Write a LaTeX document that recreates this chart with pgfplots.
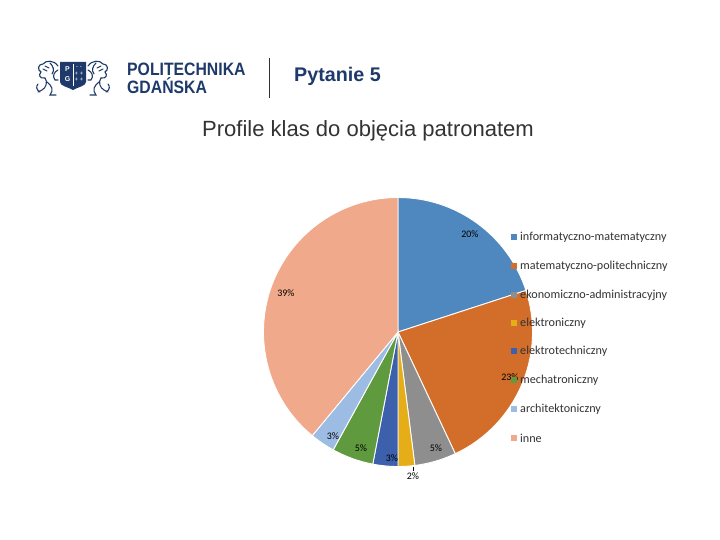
\documentclass[border=0pt]{standalone}
\usepackage{pgfplots}
\pgfplotsset{compat=1.18}
\usepackage{pgfplotstable}
\usepackage{fontspec}
\setmainfont{Liberation Sans}
\newfontfamily\calfont{Carlito}

\definecolor{cInf}{HTML}{4F88BE}
\definecolor{cMat}{HTML}{D36D2A}
\definecolor{cEko}{HTML}{8E8E8E}
\definecolor{cElk}{HTML}{E5AD18}
\definecolor{cEtc}{HTML}{3C60AC}
\definecolor{cMec}{HTML}{5F9A3E}
\definecolor{cArc}{HTML}{9DBCE3}
\definecolor{cInn}{HTML}{F0A98A}
\definecolor{navy}{HTML}{1D3A6B}
\definecolor{txt}{HTML}{333333}

% value in %, colour, label position (pixel x, pixel y), legend row (pixel y)
\pgfplotstableread[col sep=comma]{
name,value,col,lx,ly,gy
informatyczno-matematyczny,20,cInf,470,234,237
matematyczno-politechniczny,23,cMat,510,377,266
ekonomiczno-administracyjny,5,cEko,436,448,295
elektroniczny,2,cElk,413,476,323
elektrotechniczny,3,cEtc,392,458,351
mechatroniczny,5,cMec,361,448,380
architektoniczny,3,cArc,333,436,409
inne,39,cInn,286,293,438
}\piedata

\newcommand\lblfont{\calfont\fontsize{10}{12}\selectfont}
\newcommand\legfont{\calfont\fontsize{12.2}{14}\selectfont}

\begin{document}
\begin{tikzpicture}
\useasboundingbox (0,0) rectangle (720bp,540bp);
\fill[white] (0,0) rectangle (720bp,540bp);

\begin{axis}[
    at={(0,0)}, anchor=origin,
    x=1bp, y=1bp,
    xmin=0, xmax=720, ymin=0, ymax=540,
    hide axis, clip=false
]
\pgfmathsetmacro\cum{0}
\pgfplotsforeachungrouped \i in {0,...,7}{%
  \pgfplotstablegetelem{\i}{value}\of\piedata \let\v\pgfplotsretval
  \pgfplotstablegetelem{\i}{col}\of\piedata \let\c\pgfplotsretval
  \pgfplotstablegetelem{\i}{name}\of\piedata \let\n\pgfplotsretval
  \pgfplotstablegetelem{\i}{lx}\of\piedata \let\lx\pgfplotsretval
  \pgfplotstablegetelem{\i}{ly}\of\piedata \pgfmathsetmacro\ly{540-\pgfplotsretval}
  \pgfplotstablegetelem{\i}{gy}\of\piedata \pgfmathsetmacro\gy{540-\pgfplotsretval}
  \pgfmathsetmacro\a{90-3.6*\cum}
  \pgfmathsetmacro\b{90-3.6*(\cum+\v)}
  \edef\tmp{%
    \noexpand\fill[\c, draw=white, line width=0.9bp] (axis cs:398,208) -- ++(\a:134.5bp)
      arc[start angle=\a, end angle=\b, radius=134.5bp] -- cycle;
    \noexpand\node[font=\noexpand\lblfont, text=black, inner sep=0pt] at (axis cs:\lx,\ly) {\v\noexpand\%};
    \noexpand\fill[\c] (axis cs:510.5,\gy) ++(0,-3bp) rectangle ++(6bp,6bp);
    \noexpand\node[font=\noexpand\legfont, text=txt, anchor=west, inner sep=0pt] at (axis cs:520,\gy) {\n};
  }%
  \tmp
  \pgfmathsetmacro\cum{\cum+\v}
}
% leader line of the 2% label
\draw[black, line width=0.5bp] (axis cs:413,73) -- (axis cs:413,69);
\end{axis}

% slide header, pixel coordinates
\begin{scope}[x=1bp, y=-1bp, yshift=540bp]
  % shield
  \fill[navy] (60,62) -- (86,62) -- (86,82) .. controls (86,86) and (78,87) .. (73,90)
     .. controls (68,87) and (60,86) .. (60,82) -- cycle;
  \draw[white, line width=0.6bp] (73,64) -- (73,86);
  \node[white, font=\bfseries\fontsize{7}{7}\selectfont, inner sep=0pt] at (67.5,69.5) {P};
  \node[white, font=\bfseries\fontsize{7}{7}\selectfont, inner sep=0pt] at (67.5,79) {G};
  \node[white, font=\fontsize{6}{6}\selectfont, inner sep=0pt] at (79,68) {- -};
  \node[white, font=\fontsize{6}{6}\selectfont, inner sep=0pt] at (79,74) {+ +};
  \node[white, font=\fontsize{6}{6}\selectfont, inner sep=0pt] at (79,80) {+ +};
  % left lion (rough outline)
  \begin{scope}[navy, line width=1.1bp, line cap=round]
    \draw (58,66) .. controls (54,60) and (46,60) .. (43,64) .. controls (38,64) and (37,70) .. (41,72);
    \draw (41,72) .. controls (38,75) and (40,79) .. (45,78);
    \draw (45,78) .. controls (48,82) and (46,88) .. (42,90) -- (38,92);
    \draw (47,82) .. controls (52,86) and (54,90) .. (50,95) -- (56,95);
    \draw (58,70) .. controls (54,72) and (52,76) .. (55,80) -- (58,80);
    \draw (45,66) -- (49,68) (43,69) -- (47,71) (50,63) .. controls (53,66) and (55,70) .. (52,74);
    \draw (38,84) .. controls (36,86) and (36,90) .. (40,92);
  \end{scope}
  % right lion (mirror)
  \begin{scope}[navy, line width=1.1bp, line cap=round, xshift=146bp, xscale=-1]
    \draw (58,66) .. controls (54,60) and (46,60) .. (43,64) .. controls (38,64) and (37,70) .. (41,72);
    \draw (41,72) .. controls (38,75) and (40,79) .. (45,78);
    \draw (45,78) .. controls (48,82) and (46,88) .. (42,90) -- (38,92);
    \draw (47,82) .. controls (52,86) and (54,90) .. (50,95) -- (56,95);
    \draw (58,70) .. controls (54,72) and (52,76) .. (55,80) -- (58,80);
    \draw (45,66) -- (49,68) (43,69) -- (47,71) (50,63) .. controls (53,66) and (55,70) .. (52,74);
    \draw (38,84) .. controls (36,86) and (36,90) .. (40,92);
  \end{scope}
  % name of the university
  \node[navy, anchor=base west, inner sep=0pt, font=\bfseries\fontsize{18}{18}\selectfont]
     at (127,76) {\scalebox{0.88}[1]{POLITECHNIKA}};
  \node[navy, anchor=base west, inner sep=0pt, font=\bfseries\fontsize{18}{18}\selectfont]
     at (127,94) {\scalebox{0.88}[1]{GDAŃSKA}};
  \draw[black!80, line width=1.2bp] (269.5,58) -- (269.5,98);
  \node[navy, anchor=base west, inner sep=0pt, font=\bfseries\fontsize{19.8}{20}\selectfont]
     at (294,81.5) {Pytanie 5};
  % title
  \node[black!80, anchor=base, inner sep=0pt, font=\fontsize{22.1}{24}\selectfont]
     at (368,137) {Profile klas do objęcia patronatem};
\end{scope}
\end{tikzpicture}
\end{document}
